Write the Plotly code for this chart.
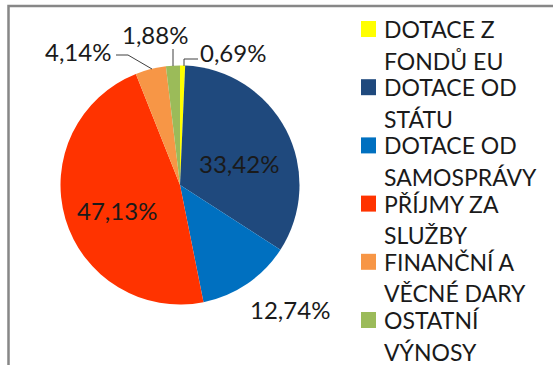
import plotly.graph_objects as go

# Income structure (share of total, %)
categories = [
    "DOTACE Z<br>FONDŮ EU",
    "DOTACE OD<br>STÁTU",
    "DOTACE OD<br>SAMOSPRÁVY",
    "PŘÍJMY ZA<br>SLUŽBY",
    "FINANČNÍ A<br>VĚCNÉ DARY",
    "OSTATNÍ<br>VÝNOSY",
]
shares = [0.69, 33.42, 12.74, 47.13, 4.14, 1.88]
colors = ["#FFFF00", "#1F497D", "#0070C0", "#FF3300", "#F79646", "#9BBB59"]

W, H = 553, 365
FONT = "Lato"
TEXT_COLOR = "#1a1a1a"


def px(x):
    return x / W


def py(y):
    return 1 - y / H


def pct(v):
    return f"{v:.2f}".replace(".", ",") + "%"


# pie centre (180, 185), radius 119.5 px
cx, cy, r = 180, 185, 119.5

fig = go.Figure(
    go.Pie(
        labels=[c.replace("<br>", " ") for c in categories],
        values=shares,
        sort=False,
        direction="clockwise",
        rotation=0,
        marker=dict(colors=colors, line=dict(width=0)),
        textinfo="none",
        hoverinfo="label+percent",
        showlegend=False,
        domain=dict(x=[px(cx - r), px(cx + r)], y=[py(cy + r), py(cy - r)]),
    )
)

# data labels: (centre x, centre y) in pixels, one per slice
label_pos = [(233, 53), (239, 163), (289.5, 309), (117, 210), (77.5, 52), (155, 34)]
annotations = []
for v, (lx, ly) in zip(shares, label_pos):
    annotations.append(
        dict(
            x=px(lx), y=py(ly), xref="paper", yref="paper",
            text=pct(v), showarrow=False,
            xanchor="center", yanchor="middle",
            font=dict(family=FONT, size=24, color=TEXT_COLOR),
        )
    )

# leader lines for the small outer labels
leaders = [
    [(198, 59), (184, 59), (184, 66)],
    [(173, 49), (173, 66)],
    [(116, 55), (128, 55), (152, 69)],
]
shapes = []
for pts in leaders:
    path = "M " + " L ".join(f"{px(x)},{py(y)}" for x, y in pts)
    shapes.append(dict(type="path", path=path, xref="paper", yref="paper",
                       line=dict(color="#404040", width=1)))

# legend drawn as squares with two-line captions
legend_top = 29
pitch = 58.2
line_gap = 31.5
for i, (cat, col) in enumerate(zip(categories, colors)):
    y0 = legend_top + i * pitch
    shapes.append(dict(type="rect", xref="paper", yref="paper",
                       x0=px(361), x1=px(376), y0=py(y0 - 8), y1=py(y0 + 8),
                       fillcolor=col, line=dict(width=0)))
    for j, part in enumerate(cat.split("<br>")):
        annotations.append(
            dict(
                x=px(382), y=py(y0 + j * line_gap), xref="paper", yref="paper",
                text=part, showarrow=False, xanchor="left", yanchor="middle",
                font=dict(family=FONT, size=23, color=TEXT_COLOR),
            )
        )

# chart frame (top and left edges visible)
shapes.append(dict(type="rect", xref="paper", yref="paper",
                   x0=px(8.5), y0=py(6), x1=1.2, y1=-0.2,
                   line=dict(color="#878787", width=2.5), fillcolor="rgba(0,0,0,0)"))

fig.update_layout(
    width=W, height=H,
    margin=dict(l=0, r=0, t=0, b=0),
    paper_bgcolor="white",
    plot_bgcolor="white",
    annotations=annotations,
    shapes=shapes,
)

fig.write_html("out.html")
